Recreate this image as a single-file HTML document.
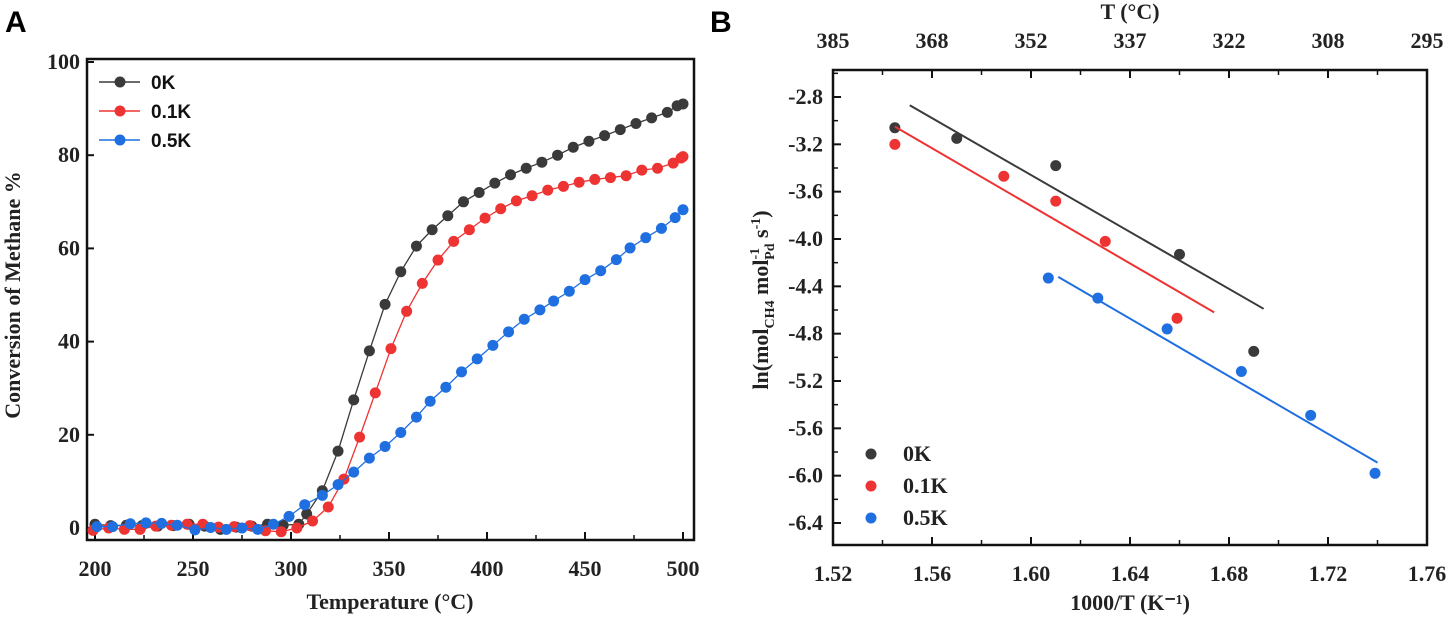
<!DOCTYPE html>
<html><head><meta charset="utf-8"><style>
body{margin:0;background:#fff;width:1450px;height:618px;overflow:hidden}
svg{display:block}
.t{font-family:"Liberation Serif",serif;font-weight:bold;font-size:22px;fill:#222}
.s{font-family:"Liberation Sans",sans-serif;font-weight:bold}
</style></head><body>
<svg id="c" width="1450" height="618"></svg>
<script>
const tempsK0=[200,208,216,224,232,240,248,256,264,272,280,288,296,304,308,316,324,332,340,348,356,364,372,380,388,396,404,412,420,428,436,444,452,460,468,476,484,492,497,500];
const valsK0=[0.8,0.5,0.6,0.5,0.4,0.5,0.8,0.4,-0.3,0.2,0.4,0.8,0.6,0.8,3,8,16.5,27.5,38,48,55,60.5,64,67,70,72,74,75.8,77.2,78.5,80,81.7,83,84.2,85.5,86.8,88,89.2,90.6,91];
const tempsK1=[199,207,215,223,231,239,247,255,263,271,279,287,295,303,311,319,327,335,343,351,359,367,375,383,391,399,407,415,423,431,439,447,455,463,471,479,487,495,499,500];
const valsK1=[-0.5,0,-0.3,-0.3,0.4,0.6,0.8,0.8,0.2,0.3,0.5,-0.6,-0.8,0,1.5,4.5,10.5,19.5,29,38.5,46.5,52.5,57.5,61.5,64,66.5,68.5,70.2,71.3,72.5,73.3,74.2,74.8,75.2,75.6,76.8,77.2,78.3,79.4,79.7];
const tempsK5=[201,209,218,226,234,242,251,259,267,275,283,291,299,307,316,324,332,340,348,356,364,371,379,387,395,403,411,419,427,434,442,450,458,466,473,481,489,496,500];
const valsK5=[0.3,0.3,0.9,1.1,1,0.6,-0.4,0.1,-0.3,0,-0.3,0.8,2.5,5,7,9.3,12,15,17.5,20.5,23.8,27.2,30.2,33.5,36.3,39.2,42.1,44.8,46.8,48.7,50.8,53.3,55.2,57.6,60.1,62.3,64.3,66.6,68.3];
const invT0=[1.545,1.570,1.610,1.660,1.690];
const lnK0=[-3.06,-3.15,-3.38,-4.13,-4.95];
const invT1=[1.545,1.589,1.610,1.630,1.659];
const lnK1=[-3.20,-3.47,-3.68,-4.02,-4.67];
const invT5=[1.607,1.627,1.655,1.685,1.713,1.739];
const lnK5=[-4.33,-4.50,-4.76,-5.12,-5.49,-5.98];
const fit0=[[1.551,-2.87],[1.694,-4.59]];
const fit1=[[1.545,-3.05],[1.674,-4.62]];
const fit5=[[1.611,-4.32],[1.740,-5.89]];
const xTicksA=[200,250,300,350,400,450,500];
const yTicksA=[0,20,40,60,80,100];
const xTicksB=[1.52,1.56,1.60,1.64,1.68,1.72,1.76];
const yTicksB=[-2.8,-3.2,-3.6,-4.0,-4.4,-4.8,-5.2,-5.6,-6.0,-6.4];
const topTicksB=['385','368','352','337','322','308','295'];
const cols=['#3a3a3a','#ee3333','#1f6fe0'];
const svg=document.getElementById('c');
const NS='http://www.w3.org/2000/svg';
function mk(tag,at,txt){const e=document.createElementNS(NS,tag);for(const k in at)e.setAttribute(k,at[k]);if(txt!=null)e.textContent=txt;svg.appendChild(e);return e;}
const ax=v=>95+(v-200)*(683-95)/300, ay=v=>528-v*(528-62)/100;
const bx=v=>833+(v-1.52)*(1427-833)/0.24, by=v=>97+(-2.8-v)*(523-97)/3.6;
let e;
e=mk('text',{x:5,y:32,class:'s','font-size':30,fill:'#000'},'A');


e=mk('text',{x:710,y:32,class:'s','font-size':30,fill:'#000'},'B');


e=mk('rect',{x:87,y:59,width:607,height:481,fill:'none',stroke:'#111','stroke-width':2.5});


xTicksA.forEach((v,i)=>{const x=ax(v);
 e=mk('line',{x1:x,x2:x,y1:540,y2:532,stroke:'#111','stroke-width':2});
 
 
 if(i<xTicksA.length-1){const xm=ax(v+25);
 e=mk('line',{x1:xm,x2:xm,y1:540,y2:535,stroke:'#111','stroke-width':1.5});
 
 }
 e=mk('text',{x:x,y:576,class:'t','text-anchor':'middle'},v);
 
 });
yTicksA.forEach(v=>{const y=ay(v);
 e=mk('line',{x1:87,x2:94,y1:y,y2:y,stroke:'#111','stroke-width':2});
 
 
 e=mk('text',{x:80,y:y+7,class:'t','text-anchor':'end'},v);
 
 });
e=mk('text',{x:390,y:609,class:'t','text-anchor':'middle'},'Temperature (°C)');


e=mk('text',{x:0,y:0,class:'t','text-anchor':'middle',transform:'translate(20,295) rotate(-90)'},'Conversion of Methane %');


[[tempsK0,valsK0],[tempsK1,valsK1],[tempsK5,valsK5]].forEach(([xs,ys],i)=>{
 e=mk('polyline',{points:xs.map((x,j)=>ax(x)+','+ay(ys[j])).join(' '),fill:'none',stroke:cols[i],'stroke-width':1.3});
 
 
 xs.forEach((x,j)=>{e=mk('circle',{cx:ax(x),cy:ay(ys[j]),r:5.5,fill:cols[i]});
 
 });
});
['0K','0.1K','0.5K'].forEach((n,i)=>{const y=82+i*29;
 e=mk('line',{x1:99,x2:140,y1:y,y2:y,stroke:cols[i],'stroke-width':1.5});
 
 
 e=mk('circle',{cx:120,cy:y,r:5.5,fill:cols[i]});
 
 
 e=mk('text',{x:151,y:y+7,class:'s','font-size':19,fill:'#111'},n);
 
 });
// Panel B
e=mk('rect',{x:833,y:70,width:594,height:475,fill:'none',stroke:'#111','stroke-width':2.5});


xTicksB.forEach((v,i)=>{const x=bx(v);
 e=mk('line',{x1:x,x2:x,y1:545,y2:537,stroke:'#111','stroke-width':2});
 
 
 if(i<xTicksB.length-1){const xm=bx(v+0.02);
 e=mk('line',{x1:xm,x2:xm,y1:545,y2:540,stroke:'#111','stroke-width':1.5});
 
 }
 e=mk('text',{x:x,y:581,class:'t','text-anchor':'middle'},v.toFixed(2));
 
 });
topTicksB.forEach((v,i)=>{const x=833+i*99;
 e=mk('line',{x1:x,x2:x,y1:70,y2:78,stroke:'#111','stroke-width':2});
 
 
 if(i<topTicksB.length-1){
 e=mk('line',{x1:x+49.5,x2:x+49.5,y1:70,y2:75,stroke:'#111','stroke-width':1.5});
 
 }
 e=mk('text',{x:x,y:48,class:'t','text-anchor':'middle'},v);
 
 });
e=mk('text',{x:1130,y:19,class:'t','text-anchor':'middle'},'T (°C)');


yTicksB.forEach((v,i)=>{const y=by(v);
 e=mk('line',{x1:833,x2:841,y1:y,y2:y,stroke:'#111','stroke-width':2});
 
 
 const ym=by(v+0.2);
 e=mk('line',{x1:833,x2:838,y1:ym,y2:ym,stroke:'#111','stroke-width':1.5});
 
 
 e=mk('text',{x:823,y:y+7,class:'t','text-anchor':'end'},v.toFixed(1));
 
 });
e=mk('text',{x:1130,y:610,class:'t','text-anchor':'middle'},'1000/T (K⁻¹)');


e=mk('text',{x:0,y:0,class:'t','text-anchor':'middle',transform:'translate(768,300) rotate(-90)'},'ln');
e.innerHTML='ln(mol<tspan font-size="14" dy="6">CH4</tspan><tspan dy="-6"> mol</tspan><tspan font-size="14" dy="-9">-1</tspan><tspan font-size="14" dx="-12" dy="15">Pd</tspan><tspan dy="-6"> s</tspan><tspan font-size="14" dy="-8">-1</tspan><tspan dy="8">)</tspan>';


[[invT0,lnK0,fit0],[invT1,lnK1,fit1],[invT5,lnK5,fit5]].forEach(([xs,ys,f],i)=>{
 e=mk('line',{x1:bx(f[0][0]),y1:by(f[0][1]),x2:bx(f[1][0]),y2:by(f[1][1]),stroke:cols[i],'stroke-width':2});
 
 
 xs.forEach((x,j)=>{e=mk('circle',{cx:bx(x),cy:by(ys[j]),r:5.5,fill:cols[i]});
 
 });
});
['0K','0.1K','0.5K'].forEach((n,i)=>{const y=454+i*32;
 e=mk('circle',{cx:871,cy:y,r:5.5,fill:cols[i]});
 
 
 e=mk('text',{x:903,y:y+7,class:'t'},n);
 
 });
</script>
</body></html>
